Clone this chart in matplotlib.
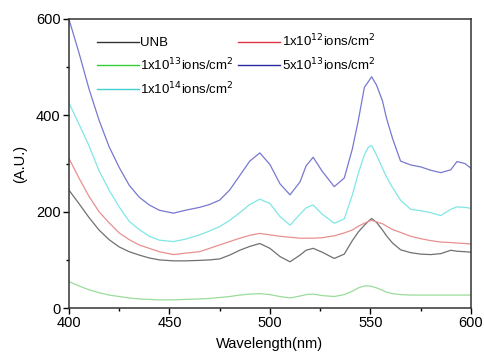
import matplotlib.pyplot as plt
from matplotlib.ticker import MultipleLocator

plt.rcParams["font.family"] = ["Liberation Sans", "DejaVu Sans"]

# wavelength grid (nm)
wl = [400, 405, 410, 415, 420, 425, 430, 435, 440, 445, 452, 458, 465, 470,
      475, 480, 485, 490, 495, 500, 505, 510, 515, 518, 521.5, 526, 532, 537,
      541, 544, 547, 549, 550.6, 553, 556, 558, 561, 565, 570, 575, 580, 585,
      590, 593, 597, 600]

unb = [245, 217, 188, 162, 142, 127, 117, 110, 104, 100, 98, 98, 99, 100,
       102, 110, 120, 128, 134, 124, 107, 96, 110, 120, 124, 116, 103, 112,
       140, 158, 172, 180, 186, 178, 162, 150, 135, 121, 115, 112, 111, 113,
       120, 118, 117, 116]

ion_1e12 = [311, 270, 232, 200, 177, 156, 142, 131, 124, 117, 111, 114, 117, 124,
            131, 138, 145, 151, 155, 152, 149, 147, 145, 145, 145, 146, 150, 156,
            162, 170, 176, 180, 182, 179, 175, 170, 163, 157, 149, 144, 140, 137,
            136, 135, 134, 133]

ion_1e13 = [55, 46, 38, 32, 27, 24, 21, 19, 18, 17, 17, 18, 19, 20,
            22, 24, 27, 29, 30, 28, 24, 21, 25, 28, 29, 26, 24, 28,
            35, 42, 46, 46, 45, 42, 37, 33, 30, 28, 27, 27, 27, 27,
            27, 27, 27, 27]

ion_5e13 = [600, 530, 455, 390, 335, 292, 255, 230, 214, 203, 197, 203, 209, 215,
            224, 245, 275, 305, 322, 298, 258, 235, 262, 295, 313, 284, 252, 270,
            330, 390, 458, 470, 480, 463, 430, 394, 352, 305, 297, 293, 286, 281,
            287, 304, 300, 290]

ion_1e14 = [426, 382, 337, 285, 245, 210, 180, 163, 149, 141, 138, 143, 152, 160,
            169, 182, 198, 215, 226, 217, 190, 172, 195, 208, 214, 195, 176, 185,
            235, 280, 318, 334, 337, 318, 290, 272, 250, 224, 205, 202, 198, 192,
            205, 210, 209, 207]

labels = ["UNB",
          "1x10$^{12}$ions/cm$^{2}$",
          "1x10$^{13}$ions/cm$^{2}$",
          "5x10$^{13}$ions/cm$^{2}$",
          "1x10$^{14}$ions/cm$^{2}$"]
series = [unb, ion_1e12, ion_1e13, ion_5e13, ion_1e14]
line_colors = ["#707070", "#e89090", "#9adc9a", "#7878d0", "#80e6e6"]
legend_colors = ["#333333", "#dd3344", "#33cc33", "#2a2aa0", "#40d0d0"]

fig = plt.figure(figsize=(4.85, 3.57), dpi=100)
ax = fig.add_axes([0.142, 0.137, 0.829, 0.81])

handles = {}
for lab, y, c, lc in zip(labels, series, line_colors, legend_colors):
    ax.plot(wl, y, color=c, lw=0.9)
    handles[lab] = plt.Line2D([], [], color=lc, lw=1.0)

ax.set_xlim(400, 600)
ax.set_ylim(0, 600)
ax.xaxis.set_major_locator(MultipleLocator(50))
ax.xaxis.set_minor_locator(MultipleLocator(25))
ax.yaxis.set_major_locator(MultipleLocator(200))
ax.yaxis.set_minor_locator(MultipleLocator(100))
ax.tick_params(which="major", length=4, width=1, labelsize=10.5, pad=2)
ax.tick_params(which="minor", length=2.5, width=1)
for s in ax.spines.values():
    s.set_linewidth(1.1)
    s.set_color("#333333")

ax.set_xlabel("Wavelength(nm)", fontsize=10.5, labelpad=5)
ax.set_ylabel("(A.U.)", fontsize=10.5, labelpad=6)

order = [labels[0], labels[2], labels[4], labels[1], labels[3]]
ax.legend([handles[k] for k in order], order, ncol=2, frameon=False,
          loc="upper left", bbox_to_anchor=(0.05, 0.98), fontsize=9.5,
          handlelength=3.2, handletextpad=0.1, columnspacing=0.3,
          labelspacing=0.55, borderaxespad=0.2)

fig.savefig("out.png", dpi=100)
